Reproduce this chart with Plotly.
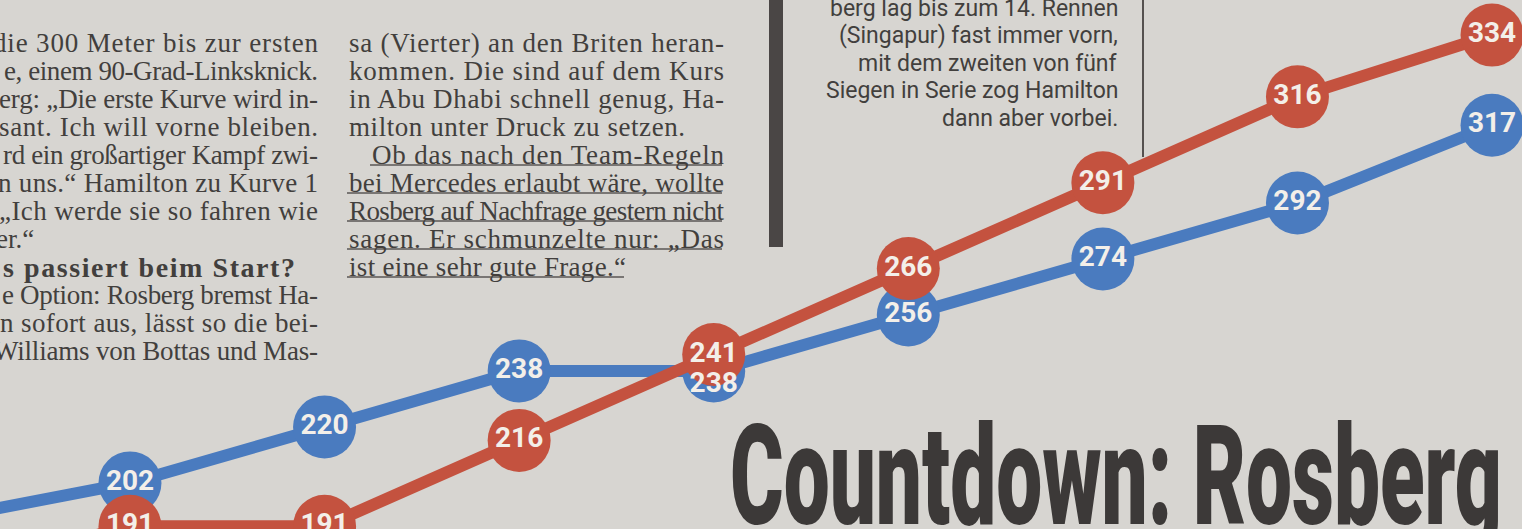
import json
import plotly.graph_objects as go

# ---------------- data ----------------
races = ["Deutschland", "Ungarn", "Belgien", "Italien", "Singapur",
         "Japan", "Russland", "USA", "Brasilien"]
rosberg = [190, 202, 220, 238, 238, 256, 274, 292, 317]
hamilton = [176, 191, 191, 216, 241, 266, 291, 316, 334]

left_col = ["die 300 Meter bis zur ersten",
            "e, einem 90-Grad-Linksknick.",
            "erg: „Die erste Kurve wird in-",
            "sant. Ich will vorne bleiben.",
            "rd ein großartiger Kampf zwi-",
            "n uns.“ Hamilton zu Kurve 1",
            "„Ich werde sie so fahren wie",
            "er.“",
            "s passiert beim Start?",
            "e Option: Rosberg bremst Ha-",
            "n sofort aus, lässt so die bei-",
            "Williams von Bottas und Mas-"]
mid_col = ["sa (Vierter) an den Briten heran-",
           "kommen. Die sind auf dem Kurs",
           "in Abu Dhabi schnell genug, Ha-",
           "milton unter Druck zu setzen."]
mid_col2 = ["Ob das nach den Team-Regeln",
            "bei Mercedes erlaubt wäre, wollte",
            "Rosberg auf Nachfrage gestern nicht",
            "sagen. Er schmunzelte nur: „Das",
            "ist eine sehr gute Frage.“"]
box_text = ["berg lag bis zum 14. Rennen",
            "(Singapur) fast immer vorn,",
            "mit dem zweiten von fünf",
            "Siegen in Serie zog Hamilton",
            "dann aber vorbei."]
headline = "Countdown: Rosberg"

# ---------------- layout / style ----------------
W, H = 1522, 529
BG = "#d7d5d1"
BLUE = "#4a7bbf"
RED = "#c4523f"
INK = "#423f3d"
LABEL = "#f3efe9"
SERIF = "Liberation Serif, DejaVu Serif, serif"
SANS = "Roboto, Liberation Sans, sans-serif"

# column geometry (pixels): start x, end x of each printed line
left_start = [-9, 2, -3, -3, 1, -4, -3, -6, 1, 0, -2, -9]
left_end = [316, 316, 316, 316, 316, 316, 316, None, 293, 316, 316, 316]
mid_start = [347, 347, 347, 347]
mid_end = [722, 722, 722, 683]
mid2_start = [370, 347, 347, 347, 347]
mid2_end = [722, 722, 722, 722, 624]

x = list(range(len(races)))
X_RANGE = [0.332, 8.154]
Y_BLUE = [187.19, 357.27]
Y_RED = [190.2, 344.2]

# the Rosberg number at Singapur sits below the overlapping Hamilton circle
blue_textpos = ["bottom center" if r == "Singapur" else "middle center" for r in races]

fig = go.Figure()
fig.add_trace(go.Scatter(x=x, y=rosberg, mode="lines", name="Rosberg", yaxis="y",
                         line=dict(color=BLUE, width=12), hoverinfo="skip"))
fig.add_trace(go.Scatter(x=x, y=rosberg, mode="markers", name="Rosberg", yaxis="y",
                         marker=dict(color=BLUE, size=63, line=dict(width=0)),
                         hovertext=races, hoverinfo="text+y"))
fig.add_trace(go.Scatter(x=x, y=hamilton, mode="lines", name="Hamilton", yaxis="y2",
                         line=dict(color=RED, width=12), hoverinfo="skip"))
fig.add_trace(go.Scatter(x=x, y=hamilton, mode="markers", name="Hamilton", yaxis="y2",
                         marker=dict(color=RED, size=63, line=dict(width=0)),
                         hovertext=races, hoverinfo="text+y"))
lab_font = dict(family=SANS, size=28, color=LABEL, weight="bold")
fig.add_trace(go.Scatter(x=x, y=hamilton, mode="text", yaxis="y2",
                         text=[str(v) for v in hamilton], textposition="middle center",
                         textfont=lab_font, hoverinfo="skip"))
fig.add_trace(go.Scatter(x=x, y=rosberg, mode="text", yaxis="y3",
                         text=[str(v) for v in rosberg], textposition=blue_textpos,
                         textfont=lab_font, hoverinfo="skip"))


def ann(text, px, py, xanchor="left", size=27, family=SERIF, color=INK, bold=False):
    return dict(text=text, xref="paper", yref="paper", x=px / W, y=1 - py / H,
                xanchor=xanchor, yanchor="middle", align=xanchor,
                showarrow=False,
                font=dict(family=family, size=size, color=color,
                          weight="bold" if bold else "normal"))


annotations = []
fit = {}
LH = 28
for i, t in enumerate(left_col):
    bold = (i == 8)
    annotations.append(ann(t, left_start[i], 43 + LH * i, size=28 if bold else 27, bold=bold))
    if left_end[i] is not None:
        fit[t] = left_end[i] - left_start[i]
for i, t in enumerate(mid_col):
    annotations.append(ann(t, mid_start[i], 43 + LH * i))
    fit[t] = mid_end[i] - mid_start[i]
for i, t in enumerate(mid_col2):
    annotations.append(ann(t, mid2_start[i], 155 + LH * i))
    fit[t] = mid2_end[i] - mid2_start[i]
for i, t in enumerate(box_text):
    annotations.append(ann(t, 1120, 8 + 27.5 * i, xanchor="right", size=23, family=SANS))
head = ann(headline, 728, 476, size=140, family="Roboto, sans-serif", color="#3c3938")
head["font"]["weight"] = 900
annotations.append(head)

shapes = [
    dict(type="rect", xref="paper", yref="paper", x0=769 / W, x1=783 / W,
         y0=1 - 247 / H, y1=1, fillcolor="#4a4645", line=dict(width=0), layer="below"),
    dict(type="line", xref="paper", yref="paper", x0=1143 / W, x1=1143 / W,
         y0=1 - 157 / H, y1=1, line=dict(color="#55514f", width=2), layer="below"),
]
for i in range(len(mid_col2)):
    yy = 165 + LH * i
    shapes.append(dict(type="line", xref="paper", yref="paper",
                       x0=mid2_start[i] / W, x1=mid2_end[i] / W,
                       y0=1 - yy / H, y1=1 - yy / H,
                       line=dict(color="#5a5654", width=1.5), layer="below"))

fig.update_layout(
    width=W, height=H, margin=dict(l=0, r=0, t=0, b=0),
    paper_bgcolor=BG, plot_bgcolor=BG, showlegend=False,
    xaxis=dict(visible=False, range=X_RANGE),
    yaxis=dict(visible=False, range=Y_BLUE),
    yaxis2=dict(visible=False, range=Y_RED, overlaying="y"),
    yaxis3=dict(visible=False, range=Y_BLUE, overlaying="y"),
    annotations=annotations, shapes=shapes,
)

js = """
document.body.style.margin = '0';
document.body.style.overflow = 'hidden';
var gd = document.getElementById('{plot_id}');
var FIT = __FIT__;
var HEAD = __HEAD__;
function adjust(){
  gd.querySelectorAll('text.annotation-text').forEach(function(t){
    var s = t.textContent;
    if (s === HEAD.text) {
      t.style.transform = 'none';
      var bb = t.getBBox();
      t.style.transformBox = 'fill-box';
      t.style.transformOrigin = '0% 50%';
      t.style.transform = 'scaleX(' + (HEAD.width / bb.width) + ')';
    } else if (FIT.hasOwnProperty(s)) {
      if (!t.getAttribute('data-fitted')) {
        var b = t.getBBox();
        t.setAttribute('text-anchor', 'start');
        t.setAttribute('x', b.x);
        t.querySelectorAll('tspan').forEach(function(ts){ if (ts.hasAttribute('x')) ts.setAttribute('x', b.x); });
        t.setAttribute('data-fitted', '1');
      }
      t.setAttribute('textLength', FIT[s]);
      t.setAttribute('lengthAdjust', 'spacing');
    }
  });
}
adjust();
gd.on('plotly_afterplot', adjust);
"""
js = js.replace("__FIT__", json.dumps(fit)).replace(
    "__HEAD__", json.dumps({"text": headline, "width": 772}))

fig.write_html("out.html", post_script=js, config={"displayModeBar": False})
